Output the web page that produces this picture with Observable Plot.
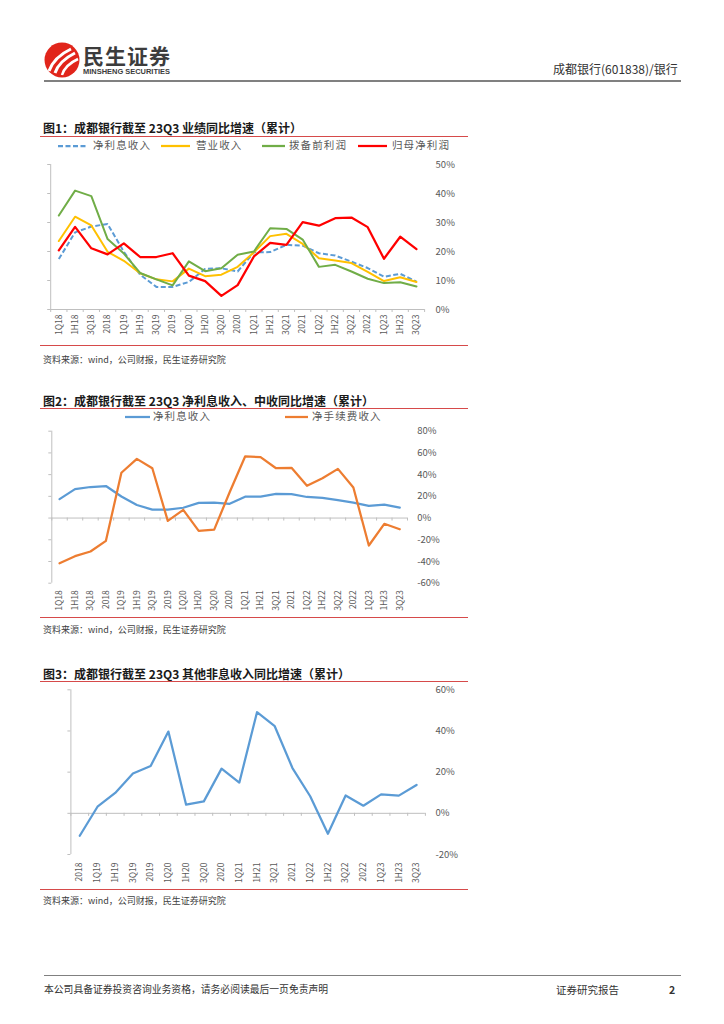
<!DOCTYPE html>
<html><head><meta charset="utf-8">
<script src="https://cdn.jsdelivr.net/npm/d3@7"></script>
<script src="https://cdn.jsdelivr.net/npm/@observablehq/plot@0.6"></script>
<style>
body{margin:0;background:#fff;font-family:"Noto Sans CJK SC","Noto Sans",sans-serif;}
#page{position:relative;width:724px;height:1024px;overflow:hidden;background:#fff;}
.abs{position:absolute;white-space:nowrap;line-height:1;}
.title{font-weight:bold;font-size:12px;color:#1a1a1a;left:43px;}
.redline{position:absolute;height:1px;background:#d64a4a;left:40px;width:428px;}
.src{font-size:9px;color:#404040;left:43px;}
.lg{font-size:10.5px;color:#595959;letter-spacing:1.1px;}
.chart{position:absolute;left:0;}
</style></head>
<body><div id="page">
<svg class="abs" width="140" height="45" style="left:40px;top:38px">
  <circle cx="22" cy="22" r="17.5" fill="#e1251b"/>
  <path d="M9 33 Q14 19 31 11" stroke="#fff" stroke-width="3" fill="none"/>
  <path d="M15 35 Q19 23 35 15" stroke="#fff" stroke-width="3" fill="none"/>
  <path d="M22 37 Q25 27 38 21" stroke="#fff" stroke-width="2.5" fill="none"/>
  <text x="43" y="26" font-size="21" font-weight="bold" fill="#3c3c3c" textLength="87" font-family="Noto Sans CJK SC">民生证券</text>
  <text x="43" y="36" font-size="7" font-weight="bold" fill="#3c3c3c" textLength="87" lengthAdjust="spacingAndGlyphs" font-family="Liberation Sans">MINSHENG SECURITIES</text>
</svg>
<div class="abs" style="left:553px;top:63px;font-size:12px;color:#333;">成都银行(601838)/银行</div>
<div style="position:absolute;left:44px;top:80px;width:637px;height:1.5px;background:#808080"></div>

<div class="abs title" style="top:122px">图1：成都银行截至 23Q3 业绩同比增速（累计）</div>
<div class="redline" style="top:135.5px"></div>
<div id="lg1"></div>
<div id="c1" class="chart" style="top:155px"></div>
<div class="redline" style="top:345px"></div>
<div class="abs src" style="top:354.5px">资料来源：wind，公司财报，民生证券研究院</div>

<div class="abs title" style="top:395px">图2：成都银行截至 23Q3 净利息收入、中收同比增速（累计）</div>
<div class="redline" style="top:408.3px"></div>
<div id="lg2"></div>
<div id="c2" class="chart" style="top:425px"></div>
<div class="redline" style="top:617.3px"></div>
<div class="abs src" style="top:624.5px">资料来源：wind，公司财报，民生证券研究院</div>

<div class="abs title" style="top:667.5px">图3：成都银行截至 23Q3 其他非息收入同比增速（累计）</div>
<div class="redline" style="top:680.7px"></div>
<div id="c3" class="chart" style="top:684px"></div>
<div class="redline" style="top:889.3px"></div>
<div class="abs src" style="top:896px">资料来源：wind，公司财报，民生证券研究院</div>

<div style="position:absolute;left:44px;top:974.5px;width:637px;height:1.5px;background:#808080"></div>
<div class="abs" style="left:44px;top:985px;font-size:9.8px;color:#333;">本公司具备证券投资咨询业务资格，请务必阅读最后一页免责声明</div>
<div class="abs" style="left:556px;top:985px;font-size:10.5px;color:#333;">证券研究报告</div>
<div class="abs" style="left:669px;top:985px;font-size:10.5px;color:#333;font-weight:bold;">2</div>
</div>
<script>
// ---------- data ----------
const quarters = ["1Q18","1H18","3Q18","2018","1Q19","1H19","3Q19","2019","1Q20","1H20","3Q20","2020","1Q21","1H21","3Q21","2021","1Q22","1H22","3Q22","2022","1Q23","1H23","3Q23"];
const netInterestYoY = [17.4,26.6,28.6,29.5,19.9,12.0,7.8,7.8,9.5,14.0,14.2,13.1,19.7,19.8,22.3,22.0,19.4,18.6,16.5,14.3,11.3,12.3,9.6];
const revenueYoY     = [23.6,32.0,29.0,19.9,16.8,12.5,10.4,9.7,14.1,11.5,12.0,14.7,19.7,25.3,26.1,22.6,17.7,16.9,16.0,13.0,9.8,11.1,9.5];
const ppopYoY        = [32.4,41.0,39.1,24.3,19.3,12.6,10.4,8.3,16.6,13.2,14.2,18.9,20.0,28.0,27.8,24.1,14.7,15.4,13.1,10.6,9.1,9.4,7.9];
const netProfitYoY   = [20.4,28.5,21.1,19.0,22.8,18.1,18.1,19.4,11.7,9.8,4.7,8.4,18.3,23.0,22.3,30.1,28.9,31.5,31.7,28.4,17.5,25.1,20.8];
const feeIncomeYoY   = [-41.6,-35.1,-30.8,-21.0,41.7,54.5,45.9,-2.6,7.6,-11.8,-10.6,23.8,56.7,56.1,45.9,46.3,29.7,36.7,45.3,28.1,-25.3,-5.3,-10.3];
const quarters3 = ["2018","1Q19","1H19","3Q19","2019","1Q20","1H20","3Q20","2020","1Q21","1H21","3Q21","2021","1Q22","1H22","3Q22","2022","1Q23","1H23","3Q23"];
const otherNonIntYoY = [-10.9,3.2,9.9,19.3,23.0,39.7,4.2,5.8,21.7,14.9,49.1,42.3,22.0,8.3,-9.9,8.7,3.7,9.2,8.6,13.8];
const ticks1 = [0,10,20,30,40,50];
const ticks2 = [-60,-40,-20,0,20,40,60,80];
const ticks3 = [-20,0,20,40,60];

const AX = "#bfbfbf", TXT = "#595959";
const FONT = '"Noto Sans CJK SC","Noto Sans",sans-serif';

function makeChart({cats, series, yTicks, height, mt, mb, ml, mr, padR, padX, tickLen}) {
  const n = cats.length;
  const yDom = [yTicks[0], yTicks[yTicks.length-1]];
  const bounds = d3.range(n+1).map(i => i - 0.5);
  const marks = [
    Plot.ruleX([-0.5], {y1: yDom[0], y2: yDom[1], stroke: AX}),
    Plot.axisY({anchor: "left", ticks: yTicks, tickSize: 3, tickFormat: () => "", stroke: AX, label: null}),
    Plot.ruleY([0], {x1: -0.5, x2: n - 0.5, stroke: AX}),
    Plot.ruleX(bounds, {x: d => d, y1: 0, y2: -tickLen, stroke: AX}),
  ];
  for (const s of series) {
    const data = s.values.map((v, i) => ({i, v}));
    marks.push(Plot.line(data, {x: "i", y: "v", stroke: s.color, strokeWidth: s.width || 2,
      strokeDasharray: s.dash, strokeLinecap: s.dash ? "butt" : "round", strokeLinejoin: "round"}));
  }
  marks.push(Plot.axisY({anchor: "right", ticks: yTicks, tickSize: 0, tickPadding: padR,
    tickFormat: d => d + "%", fill: TXT, fontSize: 9.5, label: null}));
  marks.push(Plot.axisX({anchor: "bottom", ticks: d3.range(n), tickSize: 0, tickPadding: padX,
    tickRotate: -90, tickFormat: i => cats[i], fill: TXT, fontSize: 8.5, label: null}));
  return Plot.plot({
    width: 470, height, marginTop: mt, marginBottom: mb, marginLeft: ml, marginRight: mr,
    x: {type: "linear", domain: [-0.5, n - 0.5], label: null},
    y: {domain: yDom, label: null},
    style: {fontFamily: FONT, background: "transparent", overflow: "visible"},
    marks
  });
}

document.getElementById("c1").append(makeChart({
  cats: quarters, yTicks: ticks1, height: 190, mt: 9, mb: 36, ml: 50.2, mr: 45.9, padR: 11, padX: 5, tickLen: 1.03,
  series: [
    {values: netInterestYoY, color: "#5b9bd5", dash: "5,2.5"},
    {values: revenueYoY, color: "#ffc000"},
    {values: ppopYoY, color: "#70ad47"},
    {values: netProfitYoY, color: "#ff0000", width: 2.25}
  ]
}));
document.getElementById("c2").append(makeChart({
  cats: quarters, yTicks: ticks2, height: 192, mt: 5.7, mb: 34.3, ml: 51.3, mr: 63, padR: 9.7, padX: 7, tickLen: 2.76,
  series: [
    {values: netInterestYoY, color: "#5b9bd5", width: 2.25},
    {values: feeIncomeYoY, color: "#ed7d31", width: 2.25}
  ]
}));
document.getElementById("c3").append(makeChart({
  cats: quarters3, yTicks: ticks3, height: 205, mt: 5.3, mb: 35, ml: 70.4, mr: 45.1, padR: 10, padX: 8, tickLen: 1.46,
  series: [
    {values: otherNonIntYoY, color: "#5b9bd5", width: 2.25}
  ]
}));

// legends
function legend(id, cy, items) {
  const host = document.getElementById(id);
  for (const it of items) {
    const sw = document.createElementNS("http://www.w3.org/2000/svg", "svg");
    sw.setAttribute("width", it.x2 - it.x1); sw.setAttribute("height", 6);
    sw.style.cssText = `position:absolute;left:${it.x1}px;top:${cy-3}px`;
    sw.innerHTML = `<line x1="0" y1="3" x2="${it.x2-it.x1}" y2="3" stroke="${it.color}" stroke-width="2.25" ${it.dash ? `stroke-dasharray="${it.dash}"` : ""}/>`;
    host.append(sw);
    const t = document.createElement("div");
    t.className = "abs lg"; t.textContent = it.label;
    t.style.left = it.tx + "px"; t.style.top = (cy - 6) + "px";
    host.append(t);
  }
}
legend("lg1", 146, [
  {label: "净利息收入", color: "#5b9bd5", dash: "5,2.5", x1: 58, x2: 87, tx: 93},
  {label: "营业收入", color: "#ffc000", x1: 161, x2: 190, tx: 196},
  {label: "拨备前利润", color: "#70ad47", x1: 262, x2: 285, tx: 289},
  {label: "归母净利润", color: "#ff0000", x1: 358, x2: 387, tx: 392}
]);
legend("lg2", 417, [
  {label: "净利息收入", color: "#5b9bd5", x1: 125, x2: 150, tx: 153},
  {label: "净手续费收入", color: "#ed7d31", x1: 285, x2: 308, tx: 312}
]);
</script>
</body></html>
